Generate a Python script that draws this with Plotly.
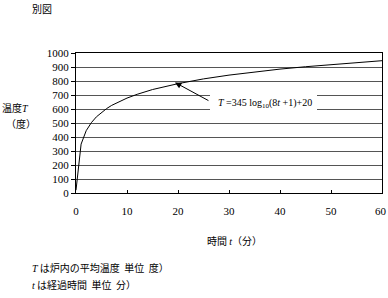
import plotly.graph_objects as go

t_min = [0, 1, 2, 3, 4, 5, 6, 7, 8, 9, 10, 12, 15, 20, 25, 30, 35, 40, 45, 50, 55, 60]
temp = [20, 349, 445, 502, 544, 576, 603, 626, 645, 663, 678, 705, 739, 781, 815, 842, 865, 885, 902, 918, 932, 945]
x_ticks = [0, 10, 20, 30, 40, 50, 60]
y_ticks = list(range(0, 1001, 100))

serif = "Liberation Serif"
jp = "Noto Sans CJK JP"

L, R, T, B = 76, 382, 53, 193
W, H = 388, 298

fig = go.Figure()
fig.add_trace(go.Scatter(x=t_min, y=temp, mode="lines",
                         line=dict(color="black", width=1), showlegend=False))

fig.update_layout(
    width=W, height=H,
    margin=dict(l=L, r=W - R, t=T, b=H - B, autoexpand=False),
    paper_bgcolor="white", plot_bgcolor="white",
    xaxis=dict(range=[0, 60], tickvals=x_ticks, ticktext=[str(v) if v != 60 else " " for v in x_ticks],
               showgrid=False,
               showline=True, linecolor="black", linewidth=1, mirror=True,
               ticks="inside", ticklen=3, tickcolor="black", automargin=False,
               ticklabelstandoff=8,
               tickfont=dict(family=serif, size=11, color="black"), zeroline=False),
    yaxis=dict(range=[0, 1000], tickvals=y_ticks, showgrid=True, gridcolor="#555555", gridwidth=1,
               showline=True, linecolor="black", linewidth=1, mirror=True,
               ticks="outside", ticklen=4, tickcolor="black", automargin=False,
               tickfont=dict(family=serif, size=11, color="black"), zeroline=False),
)

# last x tick label (near the page edge)
fig.add_annotation(x=x_ticks[-1], y=0, xref="x", yref="paper", yanchor="middle",
                   yshift=-(211 - B), xshift=-1,
                   text=str(x_ticks[-1]), showarrow=False,
                   font=dict(family=serif, size=11, color="black"))


def px(xp, yp):
    return (xp - L) / (R - L), (B - yp) / (B - T)


# white box behind the formula, interrupting the gridlines
bx0, by0 = px(210, 93)
bx1, by1 = px(317, 112)
fig.add_shape(type="rect", xref="paper", yref="paper", x0=bx0, x1=bx1, y0=by1, y1=by0,
              fillcolor="white", line=dict(width=0), layer="above")

fig.add_annotation(x=19.4, y=790, ax=35, ay=19, xref="x", yref="y", text="",
                   showarrow=True, arrowhead=2, arrowsize=1.3, arrowwidth=1, arrowcolor="black")


def pix(xp, yp, text, anchor="left", fam=jp, size=10):
    xx, yy = px(xp, yp)
    fig.add_annotation(x=xx, y=yy, xref="paper", yref="paper",
                       xanchor=anchor, yanchor="middle", text=text, showarrow=False,
                       font=dict(family=fam, size=size, color="black"))


pix(216, 103, "<i>T</i> =345 log<sub>10</sub>(8<i>t</i> +1)+20", fam=serif, size=10)
pix(30, 8, "別図")
pix(0, 107, "温度<i><span style='font-family:Liberation Serif'>T</span></i>")
pix(4, 123, "（度）")
pix(205, 240, "時間 <i><span style='font-family:Liberation Serif'>t</span></i>（分）")
pix(30, 267, "<i><span style='font-family:Liberation Serif'>T</span></i> は炉内の平均温度  単位  度）")
pix(30, 284, "<i><span style='font-family:Liberation Serif'>t</span></i> は経過時間  単位  分）")

fig.write_html("out.html")
